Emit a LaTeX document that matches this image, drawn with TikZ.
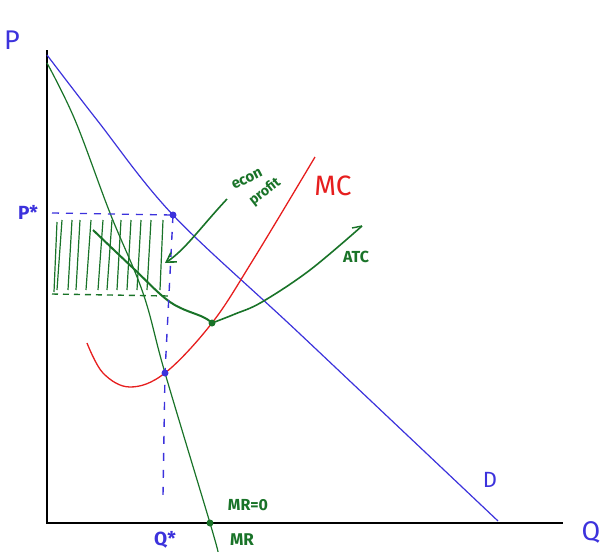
\documentclass[tikz,border=0pt]{standalone}
\usepackage{fontspec}
\setmainfont{Fira Sans}
\usetikzlibrary{arrows.meta}
\definecolor{dblue}{RGB}{60,50,220}
\definecolor{dgreen}{RGB}{25,115,40}
\definecolor{dred}{RGB}{230,30,30}
\begin{document}
\begin{tikzpicture}[x=1pt,y=-1pt,
  axis/.style={line width=2.6pt,black},
  curveD/.style={dblue,line width=1.2pt},
  curveG/.style={dgreen,line width=1.3pt},
  curveR/.style={dred,line width=1.3pt},
  dotB/.style={circle,fill=dblue,inner sep=0pt,minimum size=7pt},
  dotG/.style={circle,fill=dgreen,inner sep=0pt,minimum size=7pt},
  hatch/.style={dgreen,line width=1.2pt},
  lblB/.style={dblue,inner sep=1pt,font=\bfseries\fontsize{19}{19}\selectfont},
  lblG/.style={dgreen,inner sep=1pt,font=\bfseries\fontsize{16}{16}\selectfont},
]
\useasboundingbox (0,0) rectangle (606,552);
% axes
\coordinate (O) at (47,523);
\coordinate (Ptop) at (47,50);
\coordinate (Qend) at (563,523);
\draw[axis] (Ptop) -- (O) -- (Qend);
% hatched region
\foreach \xa/\xb in {62/57,72/68,80/76,91/86,103/98,112/107,121/117,131/127,141/137,151/147,163/160}
  \draw[hatch] (\xa,220) -- (\xb,290);
\draw[hatch] (57,222) -- (54,292);
\draw[dgreen,line width=1.4pt,dash pattern=on 6pt off 5pt] (52,294) -- (168,296);
% named points
\coordinate (A) at (173,215);
\coordinate (B) at (165,373);
\coordinate (C) at (212,323);
\coordinate (E) at (210,523);
% demand
\draw[curveD] plot[smooth,tension=0.55] coordinates {(47,55) (97,120) (173,215) (300,334) (498,521)};
% MR
\draw[curveG,line width=1.2pt] plot[smooth,tension=0.6] coordinates {(47,63) (75,120) (110,213) (143,293) (165,373) (210,523) (218,552)};
% MC
\draw[curveR] plot[smooth,tension=0.6] coordinates {(87,343) (103,373) (130,387) (165,373) (212,323) (253,260) (315,157)};
% ATC
\draw[curveG,line width=2pt] plot[smooth,tension=0.6] coordinates {(93,230) (133,268) (170,302) (203,317) (212,323)};
\draw[curveG,line width=1.6pt] plot[smooth,tension=0.6] coordinates {(212,323) (235,314) (262,302) (310,270) (362,226)};
\draw[curveG,line width=1.4pt] (362,226) -- (352,228);
% dashed guides
\draw[dblue,line width=1.3pt,dash pattern=on 7pt off 7pt] (52,213) -- (A);
\draw[dblue,line width=1.4pt,dash pattern=on 8pt off 9pt] (A) -- (B) -- (163,495);
% dots
\node[dotB] (dA) at (A) {};
\node[dotB] (dB) at (B) {};
\node[dotG] (dC) at (C) {};
\node[dotG] (dE) at (E) {};
% econ profit arrow
\coordinate (arrT) at (227,199);
\coordinate (arrH) at (165,263);
\draw[dgreen,line width=1.6pt,-{Straight Barb[length=9pt,width=11pt]}] (arrT) .. controls (200,228) and (185,250) .. (arrH);
\node[dgreen,rotate=27,inner sep=0pt,font=\bfseries\fontsize{15}{15}\selectfont] (econ) at (247,179) {econ};
\node[dgreen,rotate=38,inner sep=0pt,font=\bfseries\fontsize{14}{14}\selectfont] (profit) at (265,192) {profit};
% labels
\node[dblue,inner sep=1pt,font=\fontsize{27}{27}\selectfont] (Plbl) at (12,40) {P};
\node[lblB] (Pstar) at (28,212) {P*};
\node[dred,inner sep=1pt,font=\fontsize{28}{28}\selectfont] (MClbl) at (333,186) {MC};
\node[lblG] (ATClbl) at (356,257) {ATC};
\node[dblue,inner sep=1pt,font=\fontsize{22}{22}\selectfont] (Dlbl) at (490,480) {D};
\node[dblue,inner sep=1pt,font=\fontsize{27}{27}\selectfont] (Qlbl) at (591,532) {Q};
\node[lblB] (Qstar) at (165,540) {Q*};
\node[lblG] (MR0) at (248,505) {MR=0};
\node[lblG,font=\bfseries\fontsize{17}{17}\selectfont] (MRlbl) at (242,540) {MR};
\end{tikzpicture}
\end{document}
